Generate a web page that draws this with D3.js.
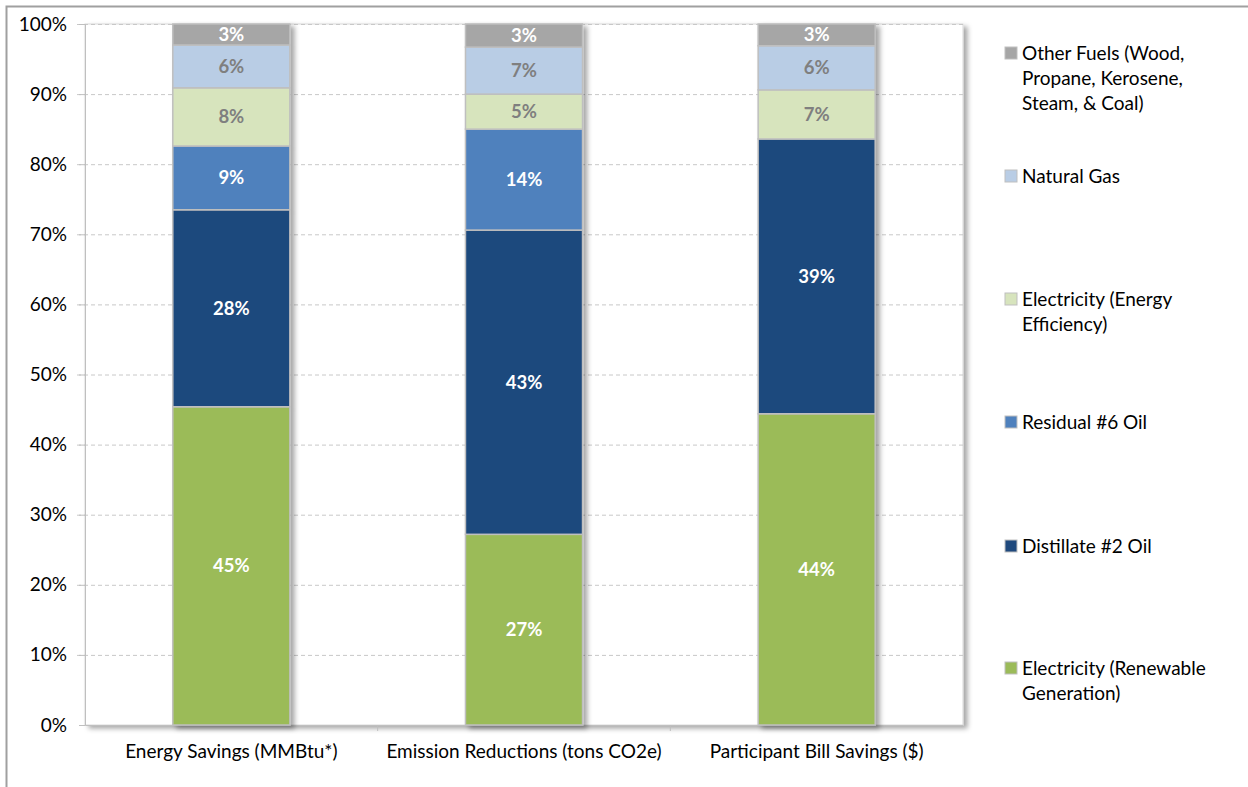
<!DOCTYPE html>
<html>
<head>
<meta charset="utf-8">
<script src="https://cdn.jsdelivr.net/npm/d3@7"></script>
<style>
  body { margin: 0; background: #fff; }
  svg { font-family: Lato, "Open Sans", sans-serif; }
</style>
</head>
<body>
<svg width="1248" height="787"></svg>
<script>
// categories and series (percent of total)
const categories = ['Energy Savings (MMBtu*)', 'Emission Reductions (tons CO2e)', 'Participant Bill Savings ($)'];
const seriesNames = ['Electricity (Renewable Generation)', 'Distillate #2 Oil', 'Residual #6 Oil',
  'Electricity (Energy Efficiency)', 'Natural Gas', 'Other Fuels (Wood, Propane, Kerosene, Steam, & Coal)'];
const renewable = [45.4, 27.2, 44.4];
const distillate = [28.1, 43.4, 39.2];
const residual = [9.1, 14.4, 0];
const efficiency = [8.3, 5.0, 7.0];
const naturalGas = [6.1, 6.7, 6.3];
const otherFuels = [3.0, 3.3, 3.1];
const yTicks = [0, 10, 20, 30, 40, 50, 60, 70, 80, 90, 100];

const colors = ['#9bbb59', '#1f497d', '#4f81bd', '#d7e4bd', '#b9cde5', '#a6a6a6'];
const labelColors = ['#fff', '#fff', '#fff', '#7f7f7f', '#7f7f7f', '#fff'];
const legendLines = [
  ['Electricity (Renewable', 'Generation)'],
  ['Distillate #2 Oil'],
  ['Residual #6 Oil'],
  ['Electricity (Energy', 'Efficiency)'],
  ['Natural Gas'],
  ['Other Fuels  (Wood,', 'Propane, Kerosene,', 'Steam, & Coal)']
];
const legendY = [668, 546, 422, 299, 176, 53];

const allSeries = [renewable, distillate, residual, efficiency, naturalGas, otherFuels];
const table = categories.map((c, i) => {
  const row = { cat: c };
  seriesNames.forEach((s, j) => row[s] = allSeries[j][i]);
  return row;
});

const fontSize = 19;
const labelSize = 18.5;
const svg = d3.select('svg');
const plot = { left: 85, right: 963, top: 24, bottom: 725 };

// chart border (cropped)
svg.append('rect')
    .attr('x', 6.5).attr('y', 6.5)
    .attr('width', 1300).attr('height', 900)
    .attr('fill', 'none')
    .attr('stroke', '#a0a0a0')
    .attr('stroke-width', 2);

const defs = svg.append('defs');
const shadow = defs.append('filter').attr('id', 'shadow')
    .attr('x', '-10%').attr('y', '-10%').attr('width', '130%').attr('height', '130%');
shadow.append('feDropShadow')
    .attr('dx', 4).attr('dy', 3).attr('stdDeviation', 2.5)
    .attr('flood-color', '#000').attr('flood-opacity', 0.35);

const x = d3.scaleBand()
    .domain(categories)
    .range([plot.left, plot.right])
    .paddingInner(0.6)
    .paddingOuter(0.3);

const y = d3.scaleLinear()
    .domain([0, 100])
    .range([plot.bottom, plot.top]);

// plot area with shadow
svg.append('rect')
    .attr('x', plot.left).attr('y', plot.top)
    .attr('width', plot.right - plot.left).attr('height', plot.bottom - plot.top)
    .attr('fill', '#fff')
    .attr('stroke', '#d9d9d9')
    .attr('filter', 'url(#shadow)');

// gridlines
svg.append('g')
  .selectAll('line')
  .data(yTicks.filter(d => d > 0))
  .join('line')
    .attr('x1', plot.left - 8).attr('x2', plot.right)
    .attr('y1', d => y(d) + 0.5).attr('y2', d => y(d) + 0.5)
    .attr('stroke', '#c8c8c8')
    .attr('stroke-dasharray', '4,3');

// y axis
const yAxis = svg.append('g')
    .attr('transform', `translate(${plot.left},0)`)
    .call(d3.axisLeft(y).tickValues(yTicks).tickFormat(d => d + '%').tickSize(6).tickPadding(12));
yAxis.select('.domain').attr('stroke', '#bfbfbf');
yAxis.selectAll('.tick line').attr('stroke', '#bfbfbf');
yAxis.selectAll('text').attr('font-size', fontSize).attr('fill', '#000').attr('font-family', 'Lato, sans-serif');

// x axis
const xAxis = svg.append('g')
    .attr('transform', `translate(0,${plot.bottom})`)
    .call(d3.axisBottom(x).tickSize(0).tickPadding(20));
xAxis.select('.domain').attr('stroke', '#bfbfbf');
xAxis.selectAll('text').attr('font-size', fontSize).attr('fill', '#000').attr('font-family', 'Lato, sans-serif');
xAxis.selectAll('.sep')
  .data(categories.slice(1))
  .join('line')
    .attr('x1', d => x(d) - x.step() * x.paddingInner() / 2)
    .attr('x2', d => x(d) - x.step() * x.paddingInner() / 2)
    .attr('y1', 0).attr('y2', 6)
    .attr('stroke', '#bfbfbf');

// stacked bars
const stack = d3.stack().keys(seriesNames)(table);

const layers = svg.append('g').attr('filter', 'url(#shadow)')
  .selectAll('g')
  .data(stack)
  .join('g')
    .attr('fill', (d, i) => colors[i]);

layers.selectAll('rect')
  .data(d => d.filter(p => p[1] - p[0] > 0))
  .join('rect')
    .attr('x', d => x(d.data.cat))
    .attr('width', x.bandwidth())
    .attr('y', d => y(d[1]))
    .attr('height', d => y(d[0]) - y(d[1]))
    .attr('stroke', '#bfbfbf')
    .attr('stroke-width', 1.5);

// data labels
const labels = svg.append('g');
stack.forEach((layer, i) => {
  labels.selectAll(null)
    .data(layer.filter(p => p[1] - p[0] > 0))
    .join('text')
      .attr('x', d => x(d.data.cat) + x.bandwidth() / 2)
      .attr('y', d => y((d[0] + d[1]) / 2))
      .attr('dy', '0.35em')
      .attr('text-anchor', 'middle')
      .attr('font-size', labelSize)
      .attr('font-weight', 'bold')
      .attr('fill', labelColors[i])
      .text(d => Math.round(d[1] - d[0]) + '%');
});

// legend
const legend = svg.append('g');
seriesNames.forEach((s, i) => {
  legend.append('rect')
    .attr('x', 1005).attr('y', legendY[i] - 6)
    .attr('width', 12).attr('height', 12)
    .attr('fill', colors[i])
    .attr('stroke', '#bfbfbf');
  legend.append('text')
    .attr('x', 1022)
    .attr('y', legendY[i])
    .attr('font-size', fontSize)
    .attr('fill', '#000')
    .selectAll('tspan')
    .data(legendLines[i])
    .join('tspan')
      .attr('x', 1022)
      .attr('dy', (d, k) => k === 0 ? '0.35em' : 25)
      .text(d => d);
});
</script>
</body>
</html>
